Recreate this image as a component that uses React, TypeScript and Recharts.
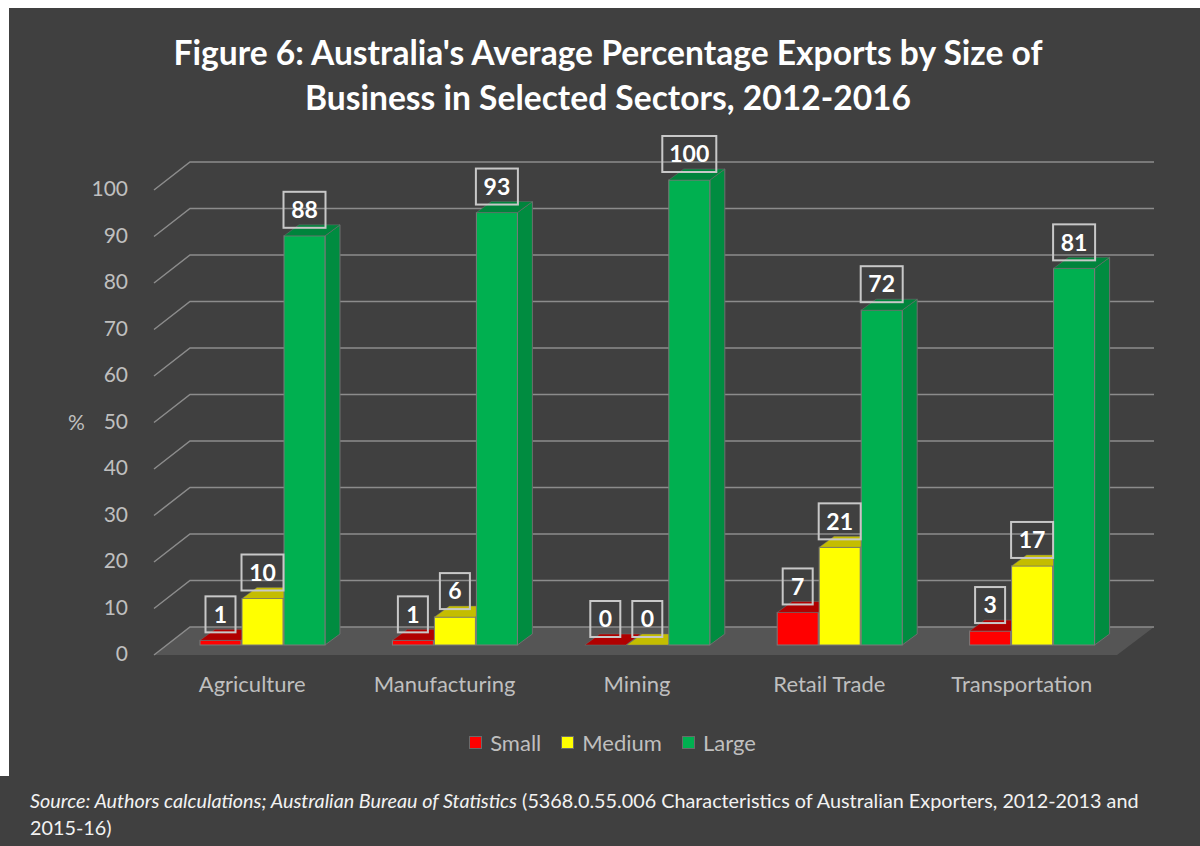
import React from 'react';
import { BarChart, Bar, XAxis, YAxis, CartesianGrid, Legend, LabelList } from 'recharts';

const categories = ['Agriculture', 'Manufacturing', 'Mining', 'Retail Trade', 'Transportation'];
const seriesNames = ['Small', 'Medium', 'Large'];
const small = [1, 1, 0, 7, 3];
const medium = [10, 6, 0, 21, 17];
const large = [88, 93, 100, 72, 81];
const yTicks = [0, 10, 20, 30, 40, 50, 60, 70, 80, 90, 100];

const data = categories.map((name, i) => ({ name, Small: small[i], Medium: medium[i], Large: large[i] }));

const FONT = 'Lato, "Open Sans", sans-serif';
const BG = '#404040';
const GRID = '#8c8c8c';
const TEXT = '#bfbfbf';

// fake 3d: depth of each bar, and offsets of the back wall / front edge from the bar plane
const BAR_DX = 15;
const BAR_DY = 11;
const BACK_DX = 24;
const BACK_DY = 18;
const FRONT_DX = -12;
const FRONT_DY = 10;
const END_DX = 26;

const faces: Record<string, { front: string; top: string; side: string }> = {
  Small: { front: '#ff0000', top: '#b00000', side: '#a00000' },
  Medium: { front: '#ffff00', top: '#c4bd00', side: '#c8c800' },
  Large: { front: '#00b050', top: '#00843c', side: '#008c40' },
};

const make3DBar = (key: string) => (props: any) => {
  const { x, y, width, height } = props;
  const c = faces[key];
  const h = Math.max(0, height || 0);
  return (
    <g>
      <polygon
        points={`${x + width},${y} ${x + width + BAR_DX},${y - BAR_DY} ${x + width + BAR_DX},${y + h - BAR_DY} ${x + width},${y + h}`}
        fill={c.side}
        stroke="#6e6e6e"
        strokeWidth={1}
      />
      <rect x={x} y={y} width={width} height={h} fill={c.front} stroke="#7a7a7a" strokeWidth={1} />
      <polygon
        points={`${x},${y} ${x + BAR_DX},${y - BAR_DY} ${x + width + BAR_DX},${y - BAR_DY} ${x + width},${y}`}
        fill={c.top}
        stroke="#6e6e6e"
        strokeWidth={0.5}
      />
    </g>
  );
};

const BoxLabel = (props: any) => {
  const { x, y, width, value } = props;
  const cx = x + width / 2;
  const w = String(value).length * 12 + 18;
  const h = 36;
  const bottom = y - 8;
  return (
    <g>
      <rect x={cx - w / 2} y={bottom - h} width={w} height={h} fill="none" stroke="#c8c8c8" strokeWidth={2} />
      <text x={cx} y={bottom - h / 2} dy="0.36em" textAnchor="middle" fill="#ffffff" fontSize={23} fontWeight={700} fontFamily={FONT}>
        {value}
      </text>
    </g>
  );
};

const GridLine = (props: any) => {
  const { x1, x2, y1, index } = props;
  const y = y1;
  const fx = x1 + FRONT_DX;
  const bx = x1 + BACK_DX;
  const ex = x2 + END_DX;
  const isFloor = index === 0;
  return (
    <g>
      {isFloor && (
        <polygon
          points={`${fx},${y + FRONT_DY} ${x2 - 11},${y + FRONT_DY} ${ex},${y - BACK_DY} ${bx},${y - BACK_DY}`}
          fill="#555555"
        />
      )}
      <polyline
        points={`${fx},${y + FRONT_DY} ${bx},${y - BACK_DY} ${ex},${y - BACK_DY}`}
        fill="none"
        stroke={GRID}
        strokeWidth={1.5}
      />
    </g>
  );
};

const YTick = (props: any) => {
  const { x, y, payload } = props;
  return (
    <text x={x - 30} y={y + FRONT_DY - 1} dy="0.35em" textAnchor="end" fill={TEXT} fontSize={21} fontFamily={FONT}>
      {payload.value}
    </text>
  );
};

const XTick = (props: any) => {
  const { x, y, payload } = props;
  return (
    <text x={x - 10} y={y + 39} textAnchor="middle" fill={TEXT} fontSize={22} fontFamily={FONT}>
      {payload.value}
    </text>
  );
};

const LegendContent = (props: any) => {
  const { payload } = props;
  const items = seriesNames.map((name) => (payload || []).find((p: any) => p.value === name)).filter(Boolean);
  return (
    <div style={{ display: 'flex', justifyContent: 'center', alignItems: 'center', height: 30, paddingLeft: 25, fontFamily: FONT, fontSize: 22, color: TEXT }}>
      {items.map((p: any) => (
        <div key={p.value} style={{ display: 'flex', alignItems: 'center', margin: '0 10px' }}>
          <span style={{ display: 'inline-block', width: 11, height: 11, background: p.color, border: '1px solid #6a6a6a', marginRight: 8 }} />
          <span>{p.value}</span>
        </div>
      ))}
    </div>
  );
};

export default function App() {
  return (
    <div style={{ position: 'absolute', left: 0, top: 0, width: 1200, height: 846, background: '#ffffff' }}>
      <div style={{ position: 'absolute', left: 9, top: 8, width: 1191, height: 768, background: BG }} />
      <div
        style={{
          position: 'absolute',
          left: 9,
          top: 30,
          width: 1198,
          textAlign: 'center',
          color: '#ffffff',
          fontFamily: FONT,
          fontWeight: 700,
          fontSize: 33.6,
          lineHeight: '45px',
        }}
      >
        Figure 6: Australia's Average Percentage Exports by Size of
        <br />
        Business in Selected Sectors, 2012-2016
      </div>
      <div style={{ position: 'absolute', left: 0, top: 0 }}>
        <BarChart
          width={1200}
          height={776}
          data={data}
          margin={{ top: 180, right: 72, bottom: 71, left: 106 }}
          barSize={41}
          barGap={1}
        >
          <CartesianGrid vertical={false} horizontal={(p: any) => <GridLine {...p} />} />
          <XAxis dataKey="name" axisLine={false} tickLine={false} height={30} tick={<XTick />} interval={0} />
          <YAxis
            domain={[0, 100]}
            ticks={yTicks}
            axisLine={false}
            tickLine={false}
            width={60}
            tick={<YTick />}
            interval={0}
            label={{ value: '%', position: 'insideLeft', offset: 0, dx: -38, dy: 10, fill: TEXT, fontSize: 21, fontFamily: FONT }}
          />
          <Legend verticalAlign="bottom" content={<LegendContent />} wrapperStyle={{ left: 0, width: 1200, top: 727 }} />
          <Bar dataKey="Small" fill="#ff0000" isAnimationActive={false} shape={make3DBar('Small')}>
            <LabelList dataKey="Small" content={<BoxLabel />} />
          </Bar>
          <Bar dataKey="Medium" fill="#ffff00" isAnimationActive={false} shape={make3DBar('Medium')}>
            <LabelList dataKey="Medium" content={<BoxLabel />} />
          </Bar>
          <Bar dataKey="Large" fill="#00b050" isAnimationActive={false} shape={make3DBar('Large')}>
            <LabelList dataKey="Large" content={<BoxLabel />} />
          </Bar>
        </BarChart>
      </div>
      <div
        style={{
          position: 'absolute',
          left: 0,
          top: 776,
          width: 1170,
          height: 70,
          paddingLeft: 30,
          paddingTop: 11,
          boxSizing: 'content-box',
          background: BG,
          color: '#f2f2f2',
          fontFamily: FONT,
          fontSize: 19.8,
          lineHeight: '27px',
        }}
      >
        <i>Source: Authors calculations; Australian Bureau of Statistics</i> (5368.0.55.006 Characteristics of Australian Exporters, 2012-2013 and
        <br />
        2015-16)
      </div>
    </div>
  );
}
